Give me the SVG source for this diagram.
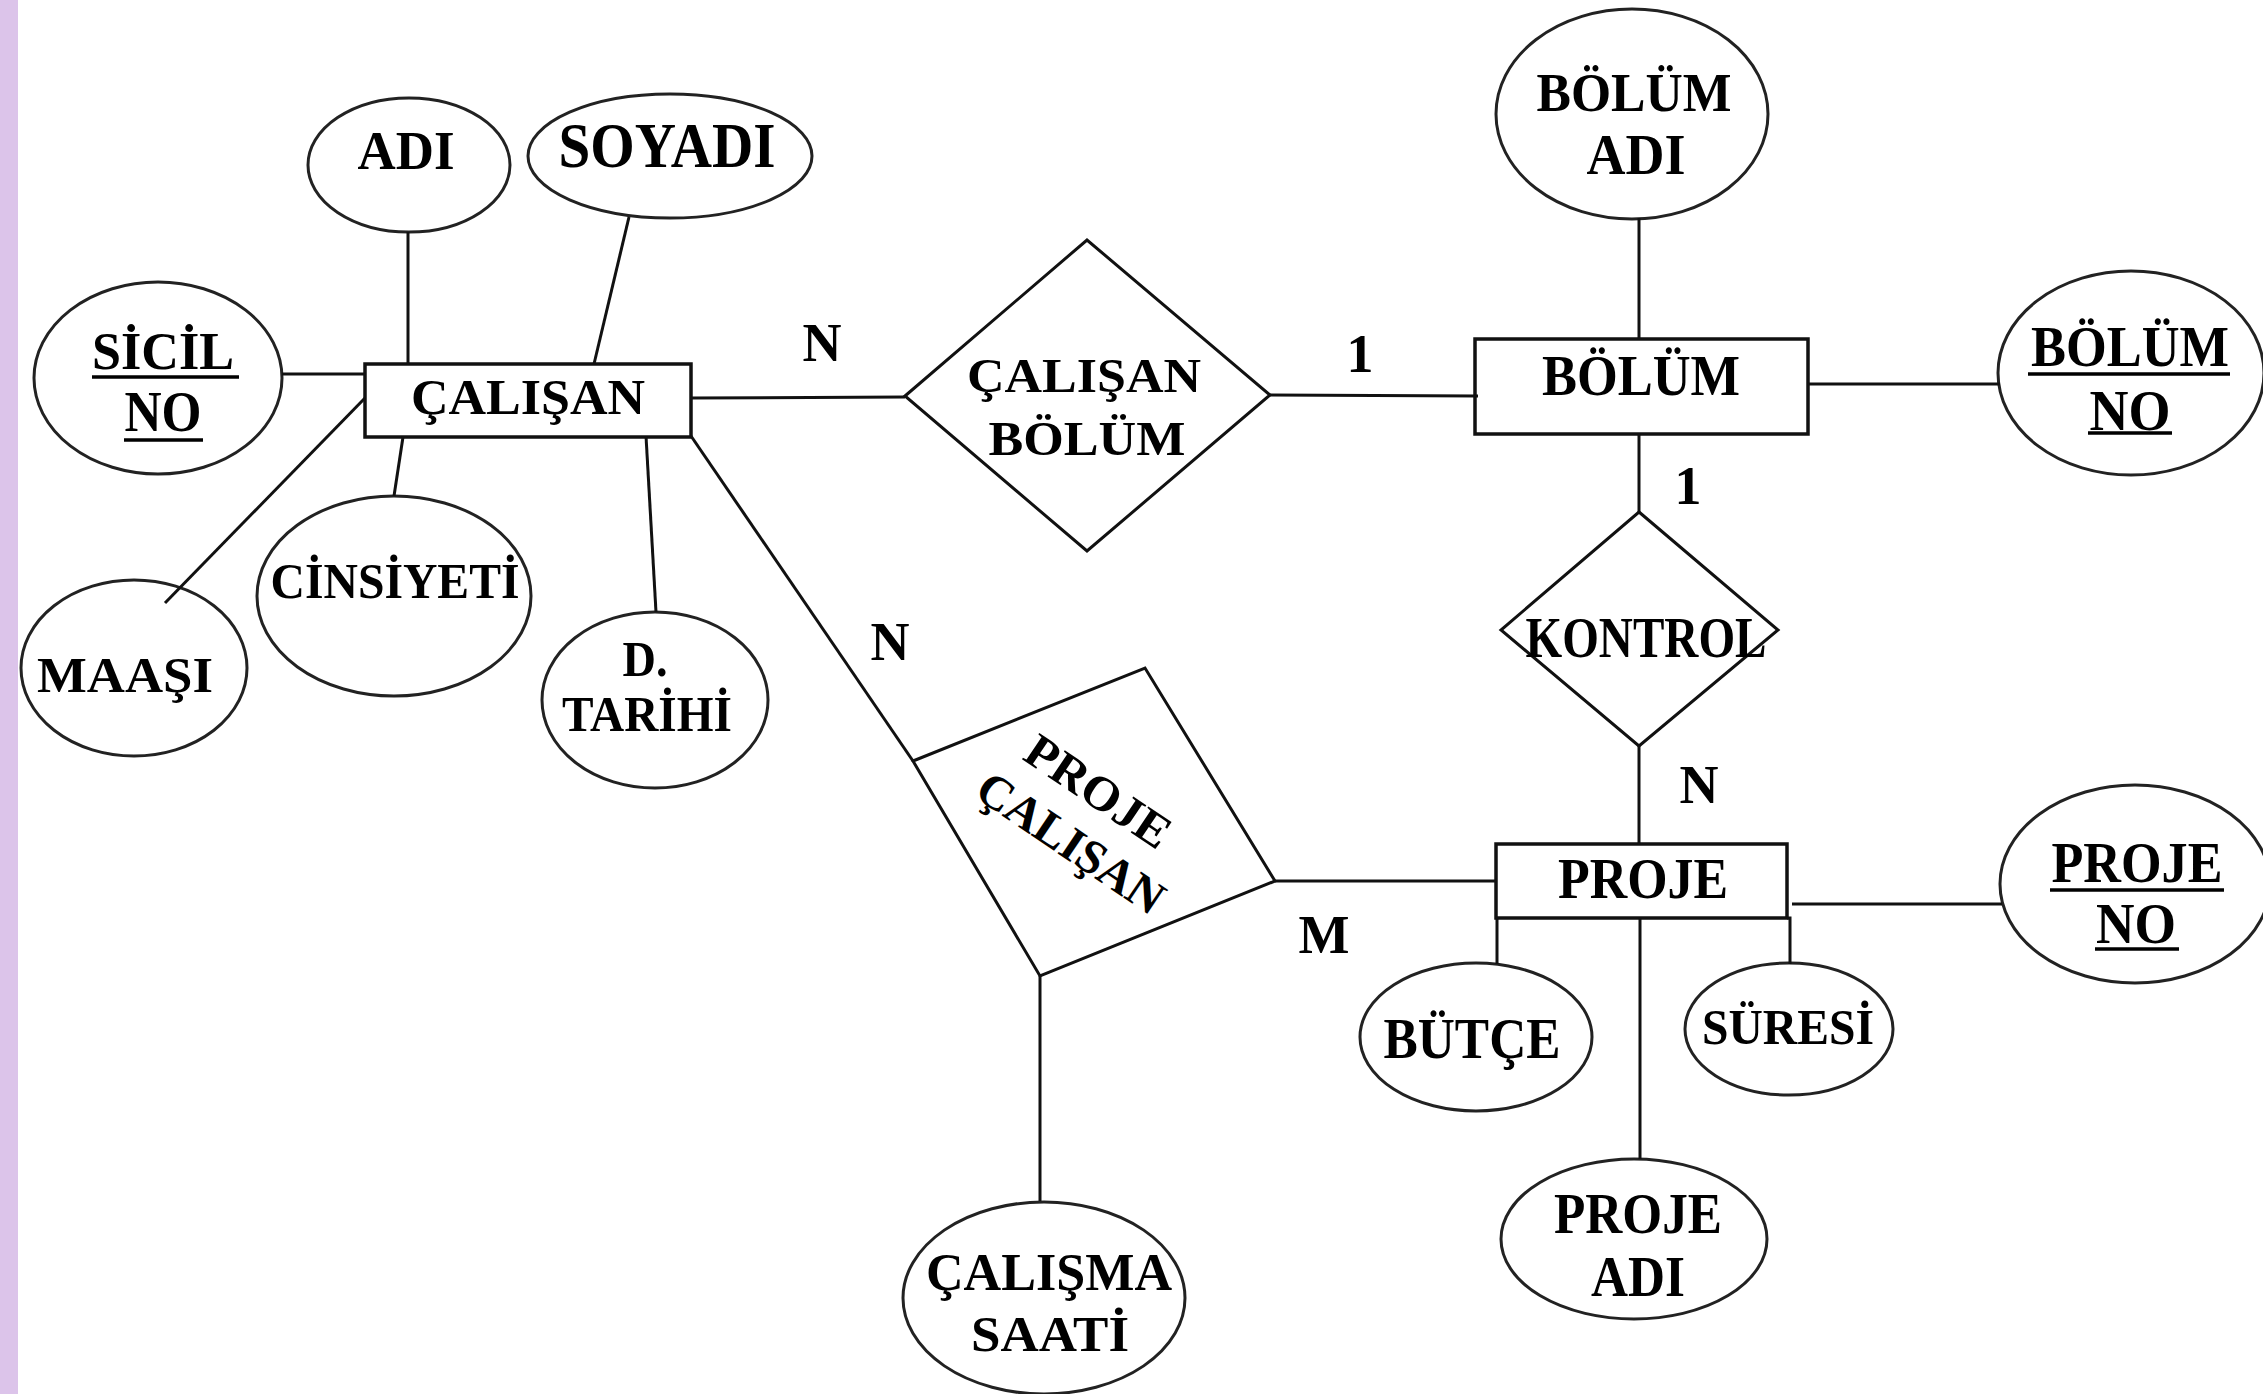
<svg xmlns="http://www.w3.org/2000/svg" width="2263" height="1394" viewBox="0 0 2263 1394">
<style>
.bg{fill:#ffffff}
.strip{fill:#dcc4ea}
.ent{fill:#ffffff;stroke:#111;stroke-width:3.5}
.rel{fill:#ffffff;stroke:#111;stroke-width:3}
.att{fill:#ffffff;stroke:#222;stroke-width:3}
.con line,.con polyline{stroke:#111;stroke-width:3;fill:none}
.ul{stroke:#000;stroke-width:3.5}
text{font-family:"Liberation Serif","Times New Roman",serif;font-weight:bold;fill:#000;text-anchor:middle}
</style>
<rect class="bg" x="0" y="0" width="2263" height="1394"/>
<rect class="strip" x="0" y="0" width="18" height="1394"/>

<g id="calisan">
<rect class="ent" x="365" y="364" width="326" height="73"/>
<text x="528" y="414" font-size="50" textLength="234" lengthAdjust="spacingAndGlyphs">ÇALIŞAN</text>
</g>
<g id="adi">
<ellipse class="att" cx="409" cy="165" rx="101" ry="67"/>
<text x="406" y="169" font-size="54" textLength="97" lengthAdjust="spacingAndGlyphs">ADI</text>
</g>
<g id="soyadi">
<ellipse class="att" cx="670" cy="156" rx="142" ry="62"/>
<text x="667" y="167" font-size="63" textLength="217" lengthAdjust="spacingAndGlyphs">SOYADI</text>
</g>
<g id="sicilno">
<ellipse class="att" cx="158" cy="378" rx="124" ry="96"/>
<text x="163" y="369" font-size="53" textLength="142" lengthAdjust="spacingAndGlyphs">SİCİL</text>
<line class="ul" x1="92" y1="377" x2="239" y2="377"/>
<text x="163" y="431" font-size="56" textLength="77" lengthAdjust="spacingAndGlyphs">NO</text>
<line class="ul" x1="124" y1="440" x2="203" y2="440"/>
</g>
<g id="maasi">
<ellipse class="att" cx="134" cy="668" rx="113" ry="88"/>
<text x="125" y="692" font-size="51" textLength="176" lengthAdjust="spacingAndGlyphs">MAAŞI</text>
</g>
<g id="cinsiyeti">
<ellipse class="att" cx="394" cy="596" rx="137" ry="100"/>
<text x="395" y="598" font-size="51" textLength="249" lengthAdjust="spacingAndGlyphs">CİNSİYETİ</text>
</g>
<g id="dtarihi">
<ellipse class="att" cx="655" cy="700" rx="113" ry="88"/>
<text x="645" y="676" font-size="51" textLength="45" lengthAdjust="spacingAndGlyphs">D.</text>
<text x="647" y="731" font-size="51" textLength="170" lengthAdjust="spacingAndGlyphs">TARİHİ</text>
</g>

<g id="calisan-bolum">
<polygon class="rel" points="905,396 1087,240 1270,395 1087,551"/>
<text x="1084" y="392" font-size="48" textLength="234" lengthAdjust="spacingAndGlyphs">ÇALIŞAN</text>
<text x="1087" y="455" font-size="48" textLength="197" lengthAdjust="spacingAndGlyphs">BÖLÜM</text>
</g>

<g id="bolum">
<rect class="ent" x="1475" y="339" width="333" height="95"/>
<text x="1641" y="395" font-size="57" textLength="198" lengthAdjust="spacingAndGlyphs">BÖLÜM</text>
</g>
<g id="bolum-adi">
<ellipse class="att" cx="1632" cy="114" rx="136" ry="105"/>
<text x="1634" y="111" font-size="55" textLength="195" lengthAdjust="spacingAndGlyphs">BÖLÜM</text>
<text x="1636" y="174" font-size="56" textLength="99" lengthAdjust="spacingAndGlyphs">ADI</text>
</g>
<g id="bolum-no">
<ellipse class="att" cx="2131" cy="373" rx="133" ry="102"/>
<text x="2130" y="366" font-size="58" textLength="198" lengthAdjust="spacingAndGlyphs">BÖLÜM</text>
<line class="ul" x1="2028" y1="374" x2="2230" y2="374"/>
<text x="2130" y="430" font-size="58" textLength="81" lengthAdjust="spacingAndGlyphs">NO</text>
<line class="ul" x1="2088" y1="433" x2="2172" y2="433"/>
</g>

<g id="kontrol">
<polygon class="rel" points="1639,512 1778,630 1639,746 1501,630"/>
<text x="1646" y="657" font-size="56" textLength="241" lengthAdjust="spacingAndGlyphs">KONTROL</text>
</g>

<g id="proje-calisan">
<polygon class="rel" points="913,761 1145,668 1275,881 1040,976"/>
<g transform="translate(1084,818) rotate(34)">
<text x="-3" y="-14" font-size="48" textLength="165" lengthAdjust="spacingAndGlyphs">PROJE</text>
<text x="3" y="44" font-size="48" textLength="215" lengthAdjust="spacingAndGlyphs">ÇALIŞAN</text>
</g>
</g>

<g id="calisma-saati">
<ellipse class="att" cx="1044" cy="1298" rx="141" ry="96"/>
<text x="1049" y="1290" font-size="52" textLength="246" lengthAdjust="spacingAndGlyphs">ÇALIŞMA</text>
<text x="1050" y="1351" font-size="50" textLength="158" lengthAdjust="spacingAndGlyphs">SAATİ</text>
</g>

<g id="proje">
<rect class="ent" x="1496" y="844" width="291" height="74"/>
<text x="1643" y="898" font-size="56" textLength="170" lengthAdjust="spacingAndGlyphs">PROJE</text>
</g>
<g id="proje-no">
<ellipse class="att" cx="2135" cy="884" rx="135" ry="99"/>
<text x="2137" y="882" font-size="57" textLength="171" lengthAdjust="spacingAndGlyphs">PROJE</text>
<line class="ul" x1="2050" y1="890" x2="2224" y2="890"/>
<text x="2136" y="943" font-size="56" textLength="80" lengthAdjust="spacingAndGlyphs">NO</text>
<line class="ul" x1="2095" y1="949" x2="2179" y2="949"/>
</g>
<g id="butce">
<ellipse class="att" cx="1476" cy="1037" rx="116" ry="74"/>
<text x="1472" y="1058" font-size="56" textLength="177" lengthAdjust="spacingAndGlyphs">BÜTÇE</text>
</g>
<g id="suresi">
<ellipse class="att" cx="1789" cy="1029" rx="104" ry="66"/>
<text x="1788" y="1044" font-size="50" textLength="172" lengthAdjust="spacingAndGlyphs">SÜRESİ</text>
</g>
<g id="proje-adi">
<ellipse class="att" cx="1634" cy="1239" rx="133" ry="80"/>
<text x="1638" y="1233" font-size="56" textLength="168" lengthAdjust="spacingAndGlyphs">PROJE</text>
<text x="1638" y="1296" font-size="56" textLength="94" lengthAdjust="spacingAndGlyphs">ADI</text>
</g>

<g id="connectors" class="con">
<line x1="282" y1="374" x2="365" y2="374"/>
<line x1="408" y1="232" x2="408" y2="364"/>
<line x1="629" y1="217" x2="594" y2="364"/>
<line x1="365" y1="398" x2="165" y2="603"/>
<line x1="403" y1="437" x2="394" y2="496"/>
<line x1="646" y1="436" x2="656" y2="612"/>
<line x1="691" y1="398" x2="905" y2="397"/>
<line x1="1270" y1="395" x2="1478" y2="396"/>
<line x1="1639" y1="218" x2="1639" y2="339"/>
<line x1="1808" y1="384" x2="2000" y2="384"/>
<line x1="1639" y1="434" x2="1639" y2="512"/>
<line x1="1639" y1="746" x2="1639" y2="844"/>
<line x1="691" y1="436" x2="913" y2="761"/>
<line x1="1275" y1="881" x2="1496" y2="881"/>
<line x1="1040" y1="976" x2="1040" y2="1201"/>
<line x1="1497" y1="918" x2="1497" y2="964"/>
<line x1="1640" y1="918" x2="1640" y2="1159"/>
<polyline points="1787,918 1790,918 1790,964"/>
<line x1="1792" y1="904" x2="2002" y2="904"/>
</g>

<g id="labels">
<text x="822" y="361" font-size="54">N</text>
<text x="1360" y="372" font-size="54">1</text>
<text x="1688" y="504" font-size="54">1</text>
<text x="890" y="660" font-size="54">N</text>
<text x="1699" y="803" font-size="54">N</text>
<text x="1324" y="953" font-size="54">M</text>
</g>
</svg>
